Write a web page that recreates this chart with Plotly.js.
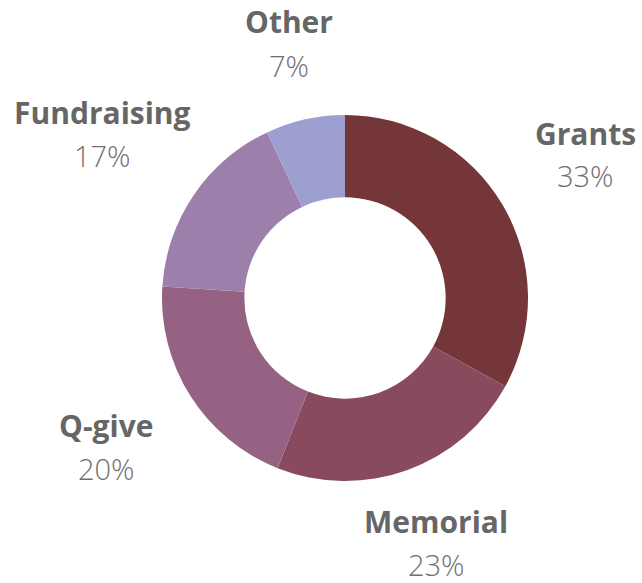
<!DOCTYPE html>
<html>
<head>
<meta charset="utf-8">
<script src="https://cdn.plot.ly/plotly-3.0.1.min.js"></script>
<style>html,body{margin:0;padding:0;background:#fff;}#chart{width:642px;height:583px;}</style>
</head>
<body>
<div id="chart"></div>
<script>
const categories = ["Grants", "Memorial", "Q-give", "Fundraising", "Other"];
const shares = [33, 23, 20, 17, 7];
const colors = ["#743638", "#894A5D", "#966284", "#9D7FAC", "#9C9FD0"];

const W = 642, H = 583;
// label anchor points (pixels) in layout, one per category
const labelPos = [[585, 133], [436, 521], [106, 425], [102, 112], [289, 22]];
const pctGap = 43;

const total = shares.reduce((a, b) => a + b, 0);
const annotations = [];
categories.forEach((c, i) => {
  const [px, py] = labelPos[i];
  annotations.push({
    text: "<b>" + c + "</b>", xref: "paper", yref: "paper",
    x: px / W, y: 1 - py / H, xanchor: "center", yanchor: "middle",
    showarrow: false, font: {family: "Open Sans", size: 30, color: "#666666"}
  });
  annotations.push({
    text: Math.round(shares[i] / total * 100) + "%", xref: "paper", yref: "paper",
    x: px / W, y: 1 - (py + pctGap) / H, xanchor: "center", yanchor: "middle",
    showarrow: false, font: {family: "Open Sans", size: 29, color: "#707070", weight: 300}
  });
});

const cx = 345, cy = 298, R = 183;
const data = [{
  type: "pie",
  labels: categories,
  values: shares,
  hole: 0.55,
  sort: false,
  direction: "clockwise",
  rotation: 0,
  textinfo: "none",
  hoverinfo: "label+percent",
  marker: {colors: colors, line: {width: 0}},
  domain: {x: [(cx - R) / W, (cx + R) / W], y: [(H - cy - R) / H, (H - cy + R) / H]}
}];

const layout = {
  width: W, height: H,
  margin: {l: 0, r: 0, t: 0, b: 0},
  showlegend: false,
  paper_bgcolor: "#ffffff",
  annotations: annotations
};

Plotly.newPlot("chart", data, layout, {displayModeBar: false, staticPlot: true});
</script>
</body>
</html>
